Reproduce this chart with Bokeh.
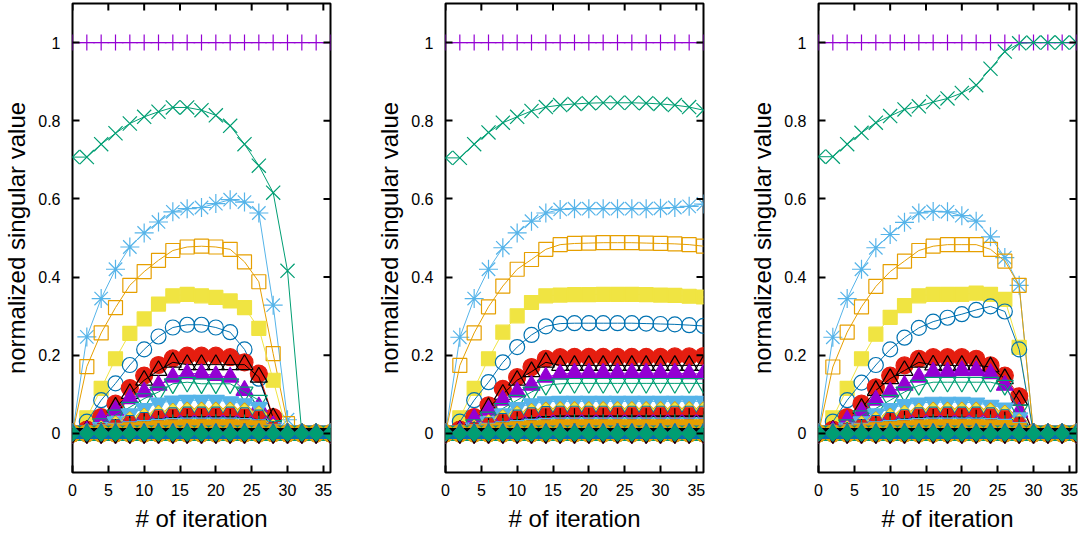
import numpy as np
from bokeh.plotting import figure
from bokeh.models import Range1d, FixedTicker
from bokeh.layouts import row
from bokeh.embed import file_html
from bokeh.resources import INLINE

# ---------------- data ----------------
ITER = [0, 2, 4, 6, 8, 10, 12, 14, 16, 18, 20, 22, 24, 26, 28, 30, 32, 34, 36]
X_MIN, X_MAX = 0, 36
Y_MIN, Y_MAX = -0.1, 1.1
XTICKS = [0, 5, 10, 15, 20, 25, 30, 35]
YTICKS = [0, 0.2, 0.4, 0.6, 0.8, 1]
YTICK_LABELS = ["0", "0.2", "0.4", "0.6", "0.8", "1"]
X_LABEL = "# of iteration"
Y_LABEL = "normalized singular value"
N_SERIES = 58
ZERO = [0] * 19

# panel 1
P1_S01 = [1] * 19
P1_S02 = [.707, .707, .740, .768, .793, .810, .823, .834, .834, .827, .814, .787, .740, .685, .616, .416, 0, 0, 0]
P1_S03 = [0, .247, .345, .420, .477, .513, .541, .567, .575, .578, .588, .598, .592, .564, .328, .035, 0, 0, 0]
P1_S04 = [0, .171, .257, .322, .379, .414, .443, .468, .477, .479, .477, .471, .439, .388, .204, .025, 0, 0, 0]
P1_S05 = [0, .040, .115, .191, .256, .293, .331, .352, .356, .352, .348, .339, .322, .269, .136, 0, 0, 0, 0]
P1_S06 = [0, .030, .085, .128, .175, .215, .248, .271, .278, .278, .271, .259, .215, .140, .040, 0, 0, 0, 0]
P1_S07 = [0, .010, .042, .076, .116, .148, .175, .192, .199, .199, .199, .195, .182, .153, .042, 0, 0, 0, 0]
P1_S08 = [0, .008, .030, .067, .102, .136, .161, .182, .176, .176, .176, .176, .176, .144, .040, 0, 0, 0, 0]
P1_S09 = [0, .006, .038, .059, .089, .106, .123, .144, .153, .153, .148, .144, .110, .068, .020, 0, 0, 0, 0]
P1_S10 = [0, .004, .025, .047, .067, .089, .106, .127, .131, .127, .127, .127, .106, .085, .020, 0, 0, 0, 0]
P1_S11 = [0, .003, .015, .030, .050, .064, .078, .083, .085, .085, .085, .081, .076, .067, .015, 0, 0, 0, 0]
P1_S12 = [0, .003, .012, .024, .035, .044, .052, .057, .060, .060, .060, .060, .058, .050, .016, 0, 0, 0, 0]
P1_S13 = [0, .003, .011, .022, .033, .042, .050, .055, .057, .057, .057, .057, .055, .048, .015, 0, 0, 0, 0]
P1_S14 = [0, .002, .010, .020, .030, .038, .045, .050, .052, .052, .052, .052, .050, .044, .014, 0, 0, 0, 0]
P1_S15 = [0, .002, .009, .018, .027, .035, .042, .046, .048, .048, .048, .048, .046, .040, .012, 0, 0, 0, 0]
P1_S16 = [0, .002, .008, .016, .024, .031, .037, .040, .042, .042, .042, .042, .040, .035, .010, 0, 0, 0, 0]
P1_S17 = [0, .002, .006, .012, .018, .022, .026, .028, .029, .029, .029, .029, .028, .025, .008, 0, 0, 0, 0]
P1_S18 = [0, .001, .005, .010, .015, .019, .022, .024, .025, .025, .025, .025, .024, .021, .006, 0, 0, 0, 0]
P1_S19 = [0, .001, .004, .008, .012, .015, .018, .020, .021, .021, .021, .021, .020, .017, .005, 0, 0, 0, 0]
P1_S20 = [0, .001, .003, .006, .009, .012, .014, .016, .017, .017, .017, .017, .016, .014, .004, 0, 0, 0, 0]

# panel 2
P2_S01 = [1] * 19
P2_S02 = [.705, .705, .740, .770, .795, .810, .825, .835, .840, .843, .845, .846, .846, .846, .845, .843, .840, .835, .827]
P2_S03 = [0, .246, .345, .420, .475, .513, .543, .564, .573, .575, .575, .575, .575, .575, .575, .576, .578, .581, .587]
P2_S04 = [0, .174, .257, .324, .377, .420, .445, .471, .483, .486, .487, .488, .488, .488, .487, .486, .485, .483, .479]
P2_S05 = [0, .040, .115, .191, .259, .301, .335, .352, .354, .355, .355, .356, .356, .356, .355, .354, .353, .351, .349]
P2_S06 = [0, .030, .085, .131, .182, .221, .252, .274, .281, .282, .282, .282, .282, .282, .281, .280, .279, .277, .275]
P2_S07 = [0, .010, .042, .072, .114, .144, .170, .191, .195, .196, .196, .196, .196, .196, .196, .196, .197, .197, .198]
P2_S08 = [0, .008, .035, .066, .100, .136, .158, .182, .174, .174, .174, .174, .174, .174, .174, .174, .174, .174, .174]
P2_S09 = [0, .006, .038, .059, .085, .106, .123, .144, .152, .154, .154, .154, .154, .154, .154, .154, .154, .153, .152]
P2_S10 = [0, .004, .022, .042, .064, .085, .106, .123, .127, .128, .128, .128, .128, .128, .128, .128, .128, .128, .128]
P2_S11 = [0, .003, .014, .030, .050, .066, .076, .081, .082, .082, .082, .082, .082, .082, .082, .082, .082, .082, .082]
P2_S12 = [0, .003, .014, .028, .040, .050, .056, .060, .061, .061, .061, .061, .061, .061, .061, .061, .061, .061, .061]
P2_S13 = [0, .003, .013, .026, .038, .048, .054, .057, .058, .058, .058, .058, .058, .058, .058, .058, .058, .058, .058]
P2_S14 = [0, .002, .012, .024, .035, .044, .050, .053, .054, .054, .054, .054, .054, .054, .054, .054, .054, .054, .054]
P2_S15 = [0, .002, .011, .022, .032, .040, .046, .049, .050, .050, .050, .050, .050, .050, .050, .050, .050, .050, .050]
P2_S16 = [0, .002, .010, .019, .028, .035, .040, .043, .044, .044, .044, .044, .044, .044, .044, .044, .044, .044, .044]
P2_S17 = [0, .002, .007, .013, .019, .023, .027, .029, .030, .030, .030, .030, .030, .030, .030, .030, .030, .030, .030]
P2_S18 = [0, .001, .005, .010, .015, .019, .022, .024, .025, .025, .025, .025, .025, .025, .025, .025, .025, .025, .025]
P2_S19 = [0, .001, .004, .008, .012, .015, .018, .020, .021, .021, .021, .021, .021, .021, .021, .021, .021, .021, .021]
P2_S20 = [0, .001, .003, .006, .009, .012, .014, .016, .017, .017, .017, .017, .017, .017, .017, .017, .017, .017, .017]

# panel 3
P3_S01 = [1] * 19
P3_S02 = [.708, .708, .740, .769, .795, .812, .829, .837, .848, .857, .871, .891, .933, .977, .998, 1, 1, 1, 1]
P3_S03 = [0, .246, .345, .420, .475, .509, .540, .564, .568, .567, .557, .543, .503, .450, .379, 0, 0, 0, 0]
P3_S04 = [0, .170, .259, .324, .376, .414, .441, .468, .479, .483, .483, .483, .471, .441, .379, 0, 0, 0, 0]
P3_S05 = [0, .040, .115, .191, .254, .297, .327, .352, .356, .356, .356, .359, .356, .343, .220, 0, 0, 0, 0]
P3_S06 = [0, .030, .085, .130, .175, .215, .245, .270, .286, .296, .305, .316, .325, .312, .215, 0, 0, 0, 0]
P3_S07 = [0, .010, .042, .076, .118, .148, .174, .191, .195, .195, .195, .191, .174, .148, .095, 0, 0, 0, 0]
P3_S08 = [0, .008, .030, .064, .110, .140, .161, .182, .175, .174, .174, .174, .170, .140, .085, 0, 0, 0, 0]
P3_S09 = [0, .006, .034, .055, .085, .106, .123, .144, .157, .157, .161, .161, .153, .123, .055, 0, 0, 0, 0]
P3_S10 = [0, .004, .022, .045, .064, .085, .106, .123, .131, .131, .131, .131, .131, .123, .060, 0, 0, 0, 0]
P3_S11 = [0, .003, .014, .030, .050, .064, .074, .078, .080, .080, .080, .078, .072, .065, .040, 0, 0, 0, 0]
P3_S12 = [0, .003, .012, .024, .035, .044, .052, .057, .060, .060, .060, .060, .058, .052, .030, 0, 0, 0, 0]
P3_S13 = [0, .003, .011, .022, .033, .042, .050, .055, .057, .057, .057, .057, .055, .049, .028, 0, 0, 0, 0]
P3_S14 = [0, .002, .010, .020, .030, .038, .045, .050, .052, .052, .052, .052, .050, .045, .026, 0, 0, 0, 0]
P3_S15 = [0, .002, .009, .018, .027, .035, .042, .046, .048, .048, .048, .048, .046, .042, .024, 0, 0, 0, 0]
P3_S16 = [0, .002, .008, .016, .024, .031, .037, .040, .042, .042, .041, .040, .038, .035, .022, 0, 0, 0, 0]
P3_S17 = [0, .002, .006, .012, .018, .022, .026, .028, .029, .029, .029, .029, .028, .026, .015, 0, 0, 0, 0]
P3_S18 = [0, .001, .005, .010, .015, .019, .022, .024, .025, .025, .025, .025, .024, .022, .012, 0, 0, 0, 0]
P3_S19 = [0, .001, .004, .008, .012, .015, .018, .020, .021, .021, .021, .021, .020, .018, .010, 0, 0, 0, 0]
P3_S20 = [0, .001, .003, .006, .009, .012, .014, .016, .017, .017, .017, .017, .016, .015, .008, 0, 0, 0, 0]

PANEL1 = [P1_S01, P1_S02, P1_S03, P1_S04, P1_S05, P1_S06, P1_S07, P1_S08, P1_S09, P1_S10,
          P1_S11, P1_S12, P1_S13, P1_S14, P1_S15, P1_S16, P1_S17, P1_S18, P1_S19, P1_S20]
PANEL2 = [P2_S01, P2_S02, P2_S03, P2_S04, P2_S05, P2_S06, P2_S07, P2_S08, P2_S09, P2_S10,
          P2_S11, P2_S12, P2_S13, P2_S14, P2_S15, P2_S16, P2_S17, P2_S18, P2_S19, P2_S20]
PANEL3 = [P3_S01, P3_S02, P3_S03, P3_S04, P3_S05, P3_S06, P3_S07, P3_S08, P3_S09, P3_S10,
          P3_S11, P3_S12, P3_S13, P3_S14, P3_S15, P3_S16, P3_S17, P3_S18, P3_S19, P3_S20]

# ---------------- styles ----------------
COLORS = ["#9400d3", "#009e73", "#56b4e9", "#e69f00", "#f0e442", "#0072b2", "#e51e10", "#000000"]
# gnuplot point types 1..15 -> (bokeh marker, filled, size, angle)
PT = [
    ("cross", False, 16, 0),
    ("x", False, 20, 0),
    ("asterisk", False, 19, 0),
    ("square", False, 14, 0),
    ("square", True, 14, 0),
    ("circle", False, 15, 0),
    ("circle", True, 17, 0),
    ("triangle", False, 17, 0),
    ("triangle", True, 17, 0),
    ("inverted_triangle", False, 17, 0),
    ("inverted_triangle", True, 17, 0),
    ("square", False, 11, np.pi / 4),
    ("square", True, 11, np.pi / 4),
    ("hex", False, 14, 0),
    ("hex", True, 14, 0),
]
FONT = "Liberation Sans"


def make_panel(series_list, width, right_border):
    p = figure(width=width, height=536,
               x_range=Range1d(X_MIN, X_MAX), y_range=Range1d(Y_MIN, Y_MAX),
               output_backend="svg", toolbar_location=None,
               min_border_left=72, min_border_right=right_border,
               min_border_top=3, min_border_bottom=64)
    p.grid.visible = False
    p.outline_line_color = "black"
    p.outline_line_width = 2
    p.background_fill_color = "white"
    p.border_fill_color = "white"

    for n in range(1, N_SERIES + 1):
        vals = series_list[n - 1] if n <= len(series_list) else ZERO
        color = COLORS[(n - 1) % 8]
        marker, filled, size, angle = PT[(n - 1) % 15]
        p.line(ITER, vals, line_color=color, line_width=1)
        p.scatter(ITER, vals, marker=marker, size=size, angle=angle,
                  line_color=color, line_width=1.2,
                  fill_color=color if filled else None)

    # mirrored (inward) ticks on the top and right borders
    p.ray(x=XTICKS, y=[Y_MAX] * len(XTICKS), length=7, length_units="screen",
          angle=-np.pi / 2, line_color="black", line_width=2)
    p.ray(x=[X_MAX] * len(YTICKS), y=YTICKS, length=7, length_units="screen",
          angle=np.pi, line_color="black", line_width=2)

    overrides = {t: lab for t, lab in zip(YTICKS, YTICK_LABELS)}
    xa = p.xaxis[0]
    xa.ticker = FixedTicker(ticks=XTICKS)
    xa.axis_label = X_LABEL
    ya = p.yaxis[0]
    ya.ticker = FixedTicker(ticks=YTICKS)
    ya.major_label_overrides = overrides
    ya.axis_label = Y_LABEL

    for ax in (xa, ya):
        ax.axis_line_color = None
        ax.major_tick_in = 7
        ax.major_tick_out = 0
        ax.minor_tick_in = 0
        ax.minor_tick_out = 0
        ax.major_tick_line_width = 2
        ax.major_tick_line_color = "black"
        ax.major_label_text_font = FONT
        ax.major_label_text_font_size = "16px"
        ax.major_label_text_color = "black"
        ax.axis_label_text_font = FONT
        ax.axis_label_text_font_size = "24px"
        ax.axis_label_text_font_style = "normal"
        ax.axis_label_text_color = "black"
    ya.major_label_standoff = 12
    ya.axis_label_standoff = 5
    xa.major_label_standoff = 11
    xa.axis_label_standoff = 6
    return p


p1 = make_panel(PANEL1, 373, 43)
p2 = make_panel(PANEL2, 373, 43)
p3 = make_panel(PANEL3, 339, 9)

layout = row(p1, p2, p3)
open("out.html", "w").write(file_html(layout, INLINE))
